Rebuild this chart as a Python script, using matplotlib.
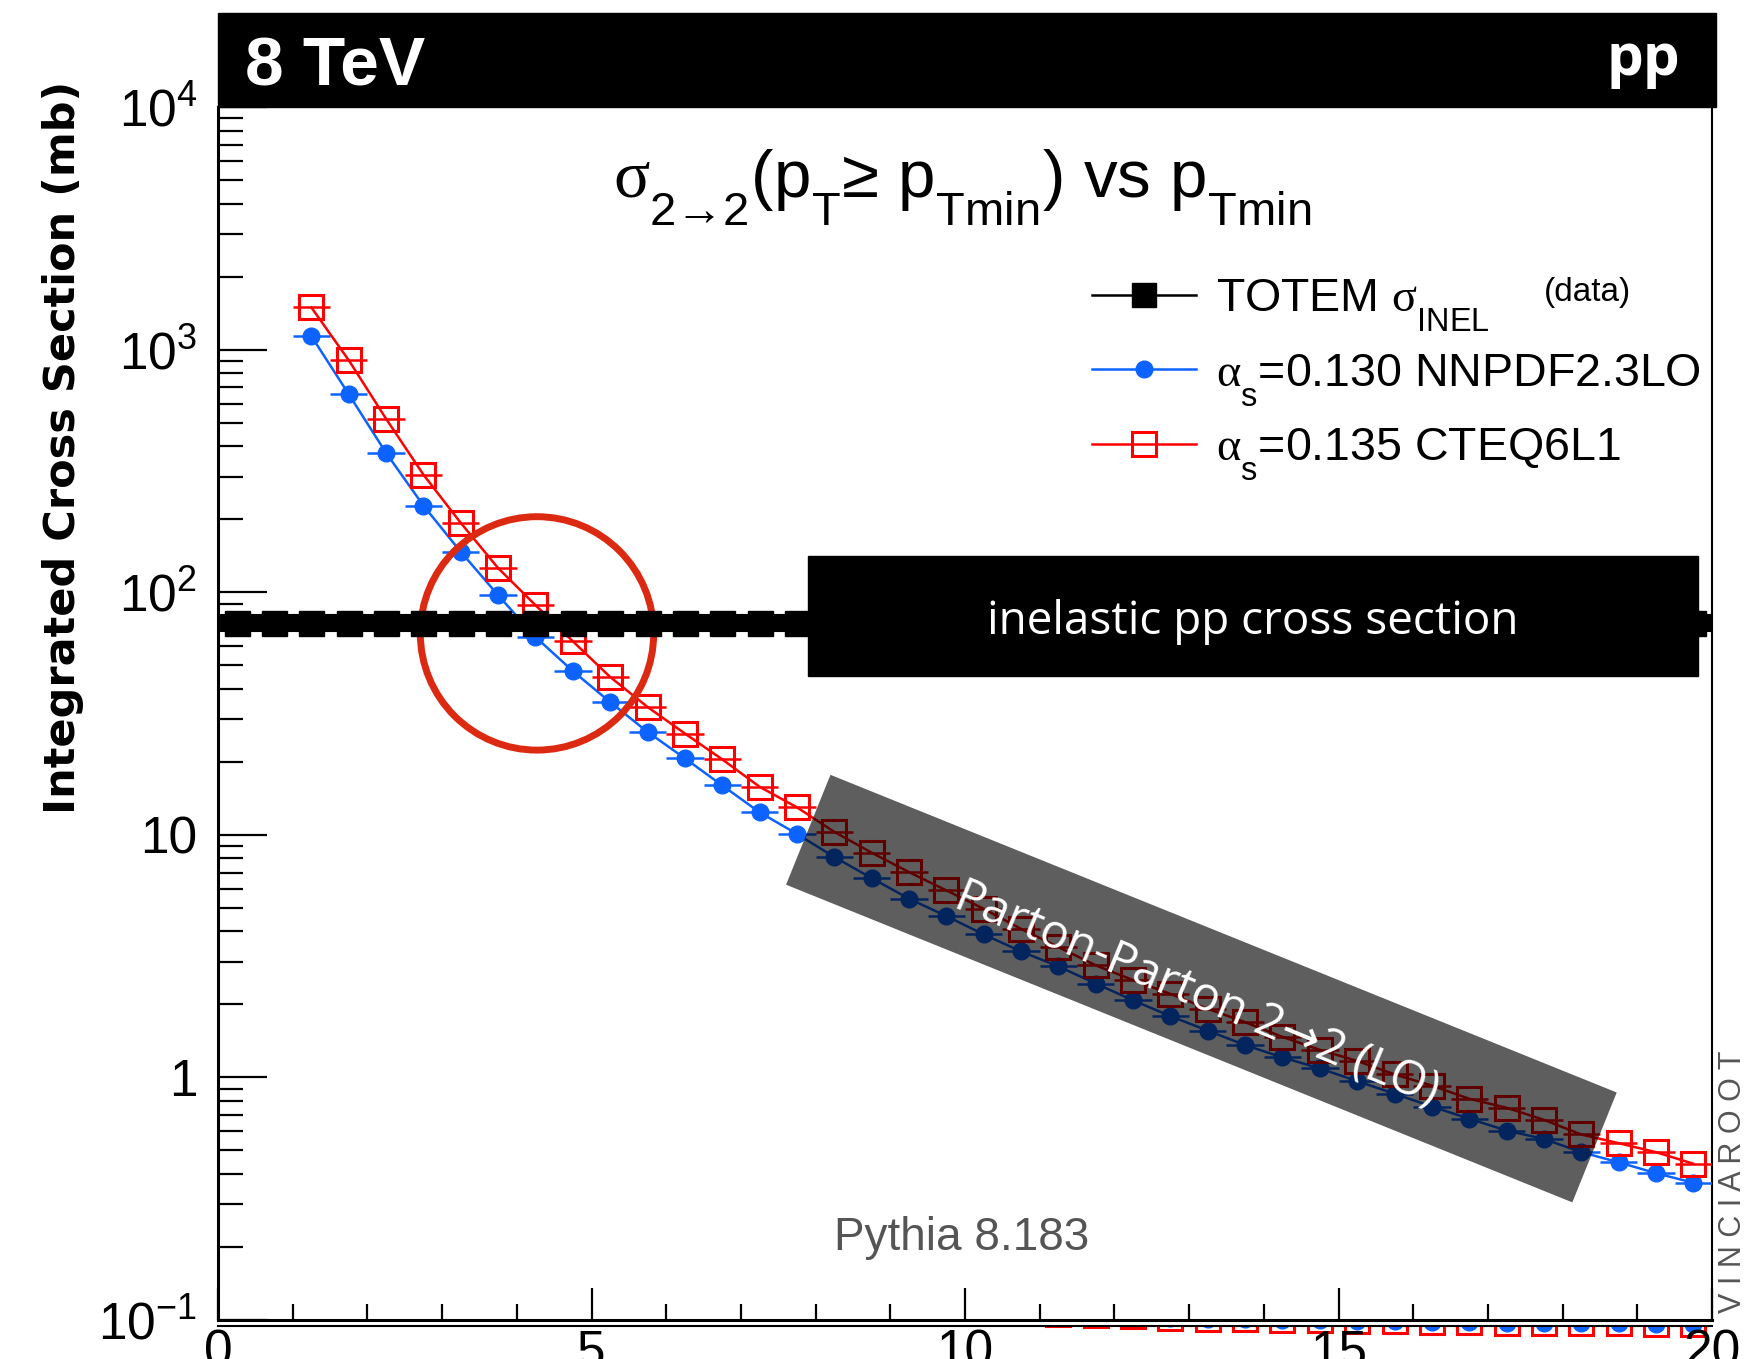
import numpy as np
import matplotlib
matplotlib.use('Agg')
import matplotlib.pyplot as plt
from matplotlib.patches import Rectangle, Circle
from matplotlib.lines import Line2D
from matplotlib.ticker import MultipleLocator, LogLocator, NullFormatter, FixedLocator

try:
    import matplotlib._mathtext as _mt
    _mt.FontConstantsBase.sub1 = 0.8
    _mt.FontConstantsBase.subdrop = 0.5
except Exception:
    pass

plt.rcParams['font.family'] = ['Liberation Sans', 'DejaVu Sans']
plt.rcParams['mathtext.fontset'] = 'custom'
plt.rcParams['mathtext.rm'] = 'Liberation Sans'
plt.rcParams['mathtext.it'] = 'Liberation Serif'
plt.rcParams['mathtext.bf'] = 'Liberation Sans:bold'
plt.rcParams['mathtext.default'] = 'rm'

# ---------------- data ----------------
pt_min = [1.25, 1.75, 2.25, 2.75, 3.25, 3.75, 4.25, 4.75, 5.25, 5.75,
          6.25, 6.75, 7.25, 7.75, 8.25, 8.75, 9.25, 9.75, 10.25, 10.75,
          11.25, 11.75, 12.25, 12.75, 13.25, 13.75, 14.25, 14.75, 15.25, 15.75,
          16.25, 16.75, 17.25, 17.75, 18.25, 18.75, 19.25, 19.75]
bin_halfwidth = 0.25

sigma_nnpdf = [1140, 657, 376, 228, 147, 97.4, 65.5, 47.4, 35.3, 26.6,
               20.7, 16.0, 12.4, 10.1, 8.11, 6.64, 5.46, 4.63, 3.89, 3.31,
               2.87, 2.44, 2.08, 1.79, 1.56, 1.36, 1.21, 1.09, 0.966, 0.857,
               0.759, 0.676, 0.604, 0.558, 0.492, 0.447, 0.403, 0.368]

sigma_cteq = [1497, 907, 520, 306, 193.5, 126, 88.6, 62.9, 44.8, 33.7,
              26.2, 20.5, 15.8, 13.0, 10.3, 8.45, 7.03, 5.91, 4.96, 4.10,
              3.45, 2.90, 2.52, 2.21, 1.92, 1.69, 1.47, 1.30, 1.17, 1.03,
              0.926, 0.817, 0.750, 0.669, 0.582, 0.536, 0.492, 0.441]

totem_x = [0.25, 0.75, 1.25, 1.75, 2.25, 2.75, 3.25, 3.75, 4.25, 4.75,
           5.25, 5.75, 6.25, 6.75, 7.25, 7.75, 8.25, 8.75, 9.25, 9.75,
           10.25, 10.75, 11.25, 11.75, 12.25, 12.75, 13.25, 13.75, 14.25, 14.75,
           15.25, 15.75, 16.25, 16.75, 17.25, 17.75, 18.25, 18.75, 19.25, 19.75]
TOTEM_SIGMA_INEL = 74.7
totem_y = [TOTEM_SIGMA_INEL] * len(totem_x)

# lower (ratio) pad, only its top sliver is visible
ratio_x = [11.25, 11.75, 12.25, 12.75, 13.25, 13.75, 14.25, 14.75, 15.25,
           15.75, 16.25, 16.75, 17.25, 17.75, 18.25, 18.75, 19.25, 19.75]
ratio_vals = [1.373, 1.324, 1.294, 1.242, 1.221, 1.203, 1.191, 1.173, 1.152,
              1.142, 1.121, 1.112, 1.100, 1.100, 1.091, 1.091, 1.070, 1.070]

y_ticks = [0.1, 1, 10, 100, 1000, 10000]
y_ticklabels = ['$10^{-1}$', '1', '10', '$10^{2}$', '$10^{3}$', '$10^{4}$']
x_ticks = [0, 5, 10, 15, 20]
x_ticklabels = ['0', '5', '10', '15', '20']

BLUE = '#0d63ff'
RED = '#ff0000'

# ---------------- figure ----------------
W, H = 1764, 1359
fig = plt.figure(figsize=(W / 100, H / 100), dpi=100)
fig.patch.set_facecolor('white')

def fx(px):
    return px / W

def fy(py):
    return 1 - py / H

# lower pad (drawn first)
ax_low = fig.add_axes([fx(218), 0, fx(1712) - fx(218), fy(1326)])
ax_low.set_zorder(-1)
ax_low.patch.set_alpha(0)
ax_low.set_xlim(0, 20)
ax_low.set_ylim(0, 1)
for s in ['left', 'right', 'bottom']:
    ax_low.spines[s].set_visible(False)
ax_low.spines['top'].set_linewidth(1.5)
ax_low.set_xticks([])
ax_low.set_yticks([])
ax_low.plot(ratio_x, ratio_vals, 'o', color=BLUE, ms=12, clip_on=True)
ax_low.plot(ratio_x, ratio_vals, 's', color=RED, ms=17, mfc='none', mew=2.2, clip_on=True)

# main axes
ax = fig.add_axes([fx(218), fy(1320), fx(1712) - fx(218), fy(107.4) - fy(1320)])
ax.set_yscale('log')
ax.set_xlim(0, 20)
ax.set_ylim(0.1, 1e4)

ax.spines['top'].set_visible(False)
ax.spines['left'].set_linewidth(2.2)
ax.spines['bottom'].set_linewidth(2.2)
ax.spines['right'].set_linewidth(1.5)

ax.xaxis.set_major_locator(FixedLocator(x_ticks))
ax.set_xticklabels(x_ticklabels)
ax.xaxis.set_minor_locator(MultipleLocator(1))
ax.yaxis.set_major_locator(FixedLocator(y_ticks))
ax.set_yticklabels(y_ticklabels)
ax.yaxis.set_minor_locator(LogLocator(base=10, subs=np.arange(2, 10), numticks=100))
ax.yaxis.set_minor_formatter(NullFormatter())

ax.tick_params(axis='y', which='major', direction='in', length=35, width=1.6,
               labelsize=37, pad=15, right=False, left=True)
ax.tick_params(axis='y', which='minor', direction='in', length=18, width=1.6,
               right=False, left=True)
ax.tick_params(axis='x', which='major', direction='in', length=23, width=1.6,
               labelsize=37, pad=6, top=False)
ax.tick_params(axis='x', which='minor', direction='in', length=11.5, width=1.6, top=False)

ax.set_ylabel('Integrated Cross Section (mb)', family='DejaVu Sans', fontweight='bold',
              fontsize=31, va='center')
ax.yaxis.set_label_coords((63 - 218) / 1494, (1320 - 447) / 1212.6)

# curves
ax.errorbar(pt_min, sigma_nnpdf, xerr=bin_halfwidth, fmt='-o', color=BLUE, ms=12,
            lw=1.8, elinewidth=1.8, capsize=0, zorder=3)
ax.errorbar(pt_min, sigma_cteq, xerr=bin_halfwidth, fmt='-s', color=RED, ms=17,
            mfc='none', mec=RED, mew=2.2, lw=1.8, elinewidth=1.8, capsize=0, zorder=3)

# red circle highlight
ax.add_patch(Circle((5.37, (H - 633.4) / 100), 1.167, transform=fig.dpi_scale_trans,
                    fill=False, ec='#dc2a12', lw=5, zorder=4))

# TOTEM band
ax.errorbar(totem_x, totem_y, xerr=bin_halfwidth, fmt='-s', color='black', ms=18,
            lw=13, elinewidth=13, capsize=0, zorder=5, clip_on=False)

# inelastic label box
ax.add_patch(Rectangle((7.90, 45.1), 19.81 - 7.90, 141 - 45.1, color='black', zorder=6))
ax.text(13.855, 75.3, 'inelastic pp cross section', ha='center', va='center',
        color='white', fontsize=33, family='Open Sans', zorder=7)

# rotated gray overlay
cx, cy = 12.014, (H - 988.6) / 100
bw, bh = 8.48, 1.185
ax.add_patch(Rectangle((cx - bw / 2, cy - bh / 2), bw, bh, angle=-22.0,
                       rotation_point='center', transform=fig.dpi_scale_trans,
                       color='black', alpha=0.63, lw=0, zorder=8))
ax.text(11.965, (H - 995) / 100, 'Parton-Parton 2\u21922 (LO)', transform=fig.dpi_scale_trans,
        rotation=-22.5, rotation_mode='anchor', ha='center', va='center',
        color='white', fontsize=34, family=['Open Sans', 'DejaVu Sans'], zorder=9)

# legend
h_totem = Line2D([], [], color='black', lw=1.8, marker='s', ms=17)
h_blue = Line2D([], [], color=BLUE, lw=1.8, marker='o', ms=12)
h_red = Line2D([], [], color=RED, lw=1.8, marker='s', ms=17, mfc='none', mew=2.2)
labels = [r'TOTEM $\mathit{\sigma}_{\mathrm{INEL}}$',
          r'$\mathit{\alpha}_{\mathrm{s}}$=0.130 NNPDF2.3LO',
          r'$\mathit{\alpha}_{\mathrm{s}}$=0.135 CTEQ6L1']
leg = ax.legend([h_totem, h_blue, h_red], labels, loc='upper left',
                bbox_to_anchor=(fx(1092), fy(277)), bbox_transform=fig.transFigure,
                frameon=False, fontsize=33.5, handlelength=2.24, handletextpad=0.42,
                labelspacing=0.4, borderpad=0, borderaxespad=0, numpoints=1)
leg.set_zorder(10)
fig.text(fx(1544), fy(293), '(data)', fontsize=24, ha='left', va='center')

# header bar
fig.add_artist(Rectangle((fx(218), fy(107.4)), fx(1716) - fx(218), fy(13) - fy(107.4),
                         transform=fig.transFigure, color='black', zorder=10))
fig.text(fx(245), fy(86), '8 TeV', color='white', fontsize=50, fontweight='bold',
         ha='left', va='baseline', zorder=11)
fig.text(fx(1680), fy(75), 'pp', color='white', fontsize=42, fontweight='bold',
         family='Open Sans', ha='right', va='baseline', zorder=11)

# title
title_str = ('$\\mathit{\\sigma}_{2\u21922}$(p$_{\\mathrm{T}}$\u2265 p$_{\\mathrm{Tmin}}$)'
             ' vs p$_{\\mathrm{Tmin}}$')
fig.text(fx(962), fy(197), title_str, ha='center', va='baseline', fontsize=48.5)

fig.text(fx(962), fy(1250), 'Pythia 8.183', ha='center', va='baseline',
         fontsize=33, color='#555555')
fig.text(fx(1733), fy(1182), 'V I N C I A R O O T', rotation=90, ha='center',
         va='center', fontsize=22, color='#555555')

fig.savefig('out.png', dpi=100)
